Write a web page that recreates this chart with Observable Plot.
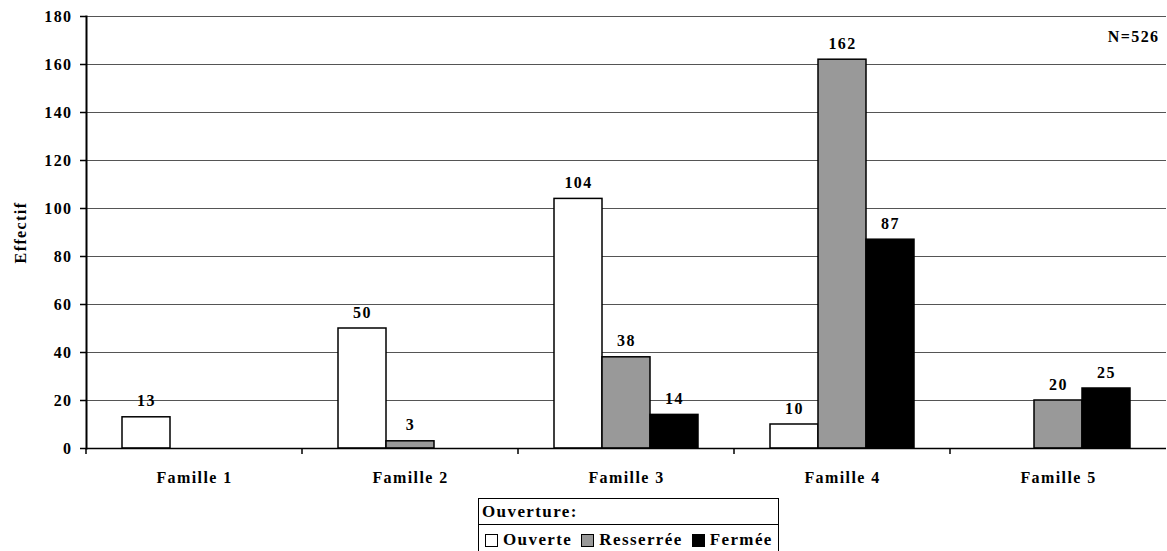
<!DOCTYPE html>
<html>
<head>
<meta charset="utf-8">
<script src="https://cdn.jsdelivr.net/npm/d3@7"></script>
<script src="https://cdn.jsdelivr.net/npm/@observablehq/plot@0.6"></script>
<style>
  html, body { margin: 0; padding: 0; background: #fff; }
  #wrap { position: relative; width: 1167px; height: 551px; overflow: hidden; font-family: "Liberation Serif", "DejaVu Serif", serif; font-weight: bold; }
  #legend { position: absolute; left: 478px; top: 498px; width: 301px; height: 70px; border: 1.5px solid #000; box-sizing: border-box; font-size: 17px; letter-spacing: 1.4px; }
  #legend .lt { height: 26px; line-height: 26px; padding-left: 3px; border-bottom: 1.5px solid #000; box-sizing: border-box; }
  #legend .li { display: flex; align-items: center; height: 26px; padding-left: 6px; padding-top: 2px; }
  #legend .item { display: flex; align-items: center; margin-right: 9px; }
  #legend .sw { width: 11px; height: 11px; border: 1px solid #000; margin-right: 5px; display: inline-block; }
</style>
</head>
<body>
<div id="wrap">
  <div id="chart"></div>
  <div id="legend"></div>
</div>
<script>
const familles = ["Famille 1", "Famille 2", "Famille 3", "Famille 4", "Famille 5"];
const ouvertures = ["Ouverte", "Resserrée", "Fermée"];
const ouverteValues = [13, 50, 104, 10, 0];
const resserreeValues = [0, 3, 38, 162, 20];
const fermeeValues = [0, 0, 14, 87, 25];
const colors = ["#ffffff", "#999999", "#000000"];
const yTicks = [0, 20, 40, 60, 80, 100, 120, 140, 160, 180];
const legendTitle = "Ouverture:";
const yLabel = "Effectif";
const totalLabel = "N=526";

const series = [ouverteValues, resserreeValues, fermeeValues];
const data = [];
familles.forEach((f, i) => {
  ouvertures.forEach((o, j) => {
    const v = series[j][i];
    if (v > 0) data.push({famille: f, ouverture: o, value: v});
  });
});

const boundaryTicks = (index, scales, values, dims) => {
  const g = d3.create("svg:g");
  const y0 = dims.height - dims.marginBottom;
  g.append("line")
    .attr("x1", dims.marginLeft).attr("x2", dims.marginLeft)
    .attr("y1", y0).attr("y2", y0 + 6)
    .attr("stroke", "#000").attr("stroke-width", 1.5);
  return g.node();
};

const chart = Plot.plot({
  width: 1167,
  height: 495,
  marginLeft: 84,
  marginRight: 0,
  marginTop: 16,
  marginBottom: 47,
  style: {fontFamily: "'Liberation Serif', 'DejaVu Serif', serif", fontSize: "16px", fontWeight: "bold", letterSpacing: "1.4px", color: "#000", background: "#fff"},
  fx: {domain: familles, padding: 0, label: null},
  x: {domain: ouvertures, paddingInner: 0, paddingOuter: 0.74, axis: null},
  y: {domain: [0, 180], label: null},
  color: {domain: ouvertures, range: colors},
  marks: [
    Plot.gridY({ticks: yTicks.filter(d => d > 0), stroke: "#555", strokeOpacity: 1, strokeWidth: 1}),
    Plot.barY(data, {fx: "famille", x: "ouverture", y: "value", fill: "ouverture", stroke: "#000", strokeWidth: 1.5, inset: 0}),
    Plot.ruleY([0], {stroke: "#000", strokeWidth: 1.5}),
    Plot.frame({anchor: "left", facetAnchor: "left", stroke: "#000", strokeWidth: 2}),
    boundaryTicks,
    Plot.text(data, {fx: "famille", x: "ouverture", y: "value", text: d => String(d.value), dy: -16, fill: "#000"}),
    Plot.text([{fx: familles[familles.length - 1], t: totalLabel}], {fx: "fx", text: "t", frameAnchor: "top-right", dx: -7, dy: 14, fill: "#000", textAnchor: "end"}),
    Plot.axisY({ticks: yTicks, tickSize: 6, tickPadding: 8, label: yLabel, labelAnchor: "center", labelArrow: "none", labelOffset: 72, stroke: "#000", strokeWidth: 1.5}),
    Plot.axisFx({anchor: "bottom", tickSize: 0, tickPadding: 23, label: null})
  ]
});
document.getElementById("chart").appendChild(chart);

const legend = d3.select("#legend");
legend.append("div").attr("class", "lt").text(legendTitle);
const row = legend.append("div").attr("class", "li");
ouvertures.forEach((o, i) => {
  const it = row.append("span").attr("class", "item");
  it.append("span").attr("class", "sw").style("background", colors[i]);
  it.append("span").text(o);
});
</script>
</body>
</html>
